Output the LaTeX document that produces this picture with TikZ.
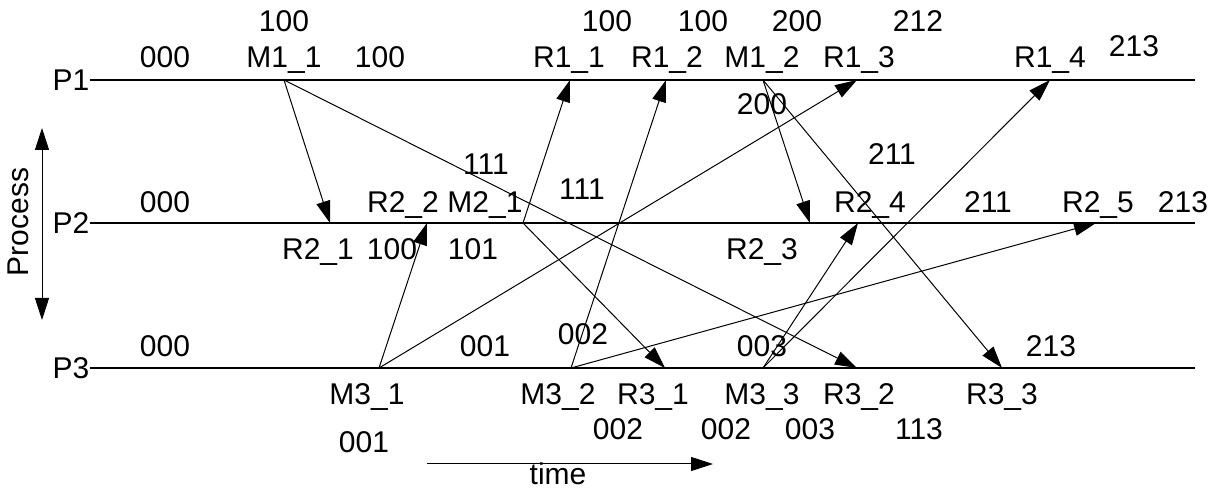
\documentclass[tikz,border=0pt]{standalone}
\usepackage{fontspec}
\setmainfont{Liberation Sans}
\usetikzlibrary{arrows.meta}
\begin{document}
\begin{tikzpicture}[x=0.5pt,y=-0.5pt]
\tikzstyle{every node}+=[inner sep=0pt,font=\fontsize{15}{18}\selectfont]
\tikzstyle{lbl}=[anchor=base]
\tikzstyle{proc}=[black,line width=1pt]
\tikzstyle{msg}=[black,line width=0.5pt,-{Triangle[length=11pt,width=7pt]}]
\useasboundingbox (0,0) rectangle (1209,490);
\node (P1) at (71,80) {P1};
\node (P2) at (71,223) {P2};
\node (P3) at (71,368) {P3};
\coordinate (e1) at (1195,80);
\coordinate (e2) at (1195,223);
\coordinate (e3) at (1195,368);
\draw [proc] (P1.east) -- (e1);
\draw [proc] (P2.east) -- (e2);
\draw [proc] (P3.east) -- (e3);
\coordinate (m11) at (284,80);
\coordinate (r11) at (570,80);
\coordinate (r12) at (666,80);
\coordinate (m12) at (763,80);
\coordinate (r13) at (857,80);
\coordinate (r14) at (1050,80);
\coordinate (r21) at (330,223);
\coordinate (r22) at (427,223);
\coordinate (m21) at (523,223);
\coordinate (r23) at (810,223);
\coordinate (r24) at (858,223);
\coordinate (r25) at (1096,223);
\coordinate (m31) at (379,368);
\coordinate (m32) at (571,368);
\coordinate (r31) at (665,368);
\coordinate (m33) at (763,368);
\coordinate (r32) at (857,368);
\coordinate (r33) at (1002,368);
\draw [msg] (m11) -- (r21);
\draw [msg] (m11) -- (r32);
\draw [msg] (m21) -- (r11);
\draw [msg] (m21) -- (r31);
\draw [msg] (m31) -- (r22);
\draw [msg] (m31) -- (r13);
\draw [msg] (m32) -- (r12);
\draw [msg] (m32) -- (r25);
\draw [msg] (m12) -- (r23);
\draw [msg] (m12) -- (r33);
\draw [msg] (m33) -- (r24);
\draw [msg] (m33) -- (r14);
\node [lbl] (vM11a) at (284,32) {100};
\node [lbl] (vP1a) at (165,68) {000};
\node [lbl] (lM11) at (284,68) {M1\_1};
\node [lbl] (vM11b) at (380,68) {100};
\node [lbl] (vR11) at (607,32) {100};
\node [lbl] (lR11) at (569,68) {R1\_1};
\node [lbl] (vR12) at (703,32) {100};
\node [lbl] (lR12) at (667,68) {R1\_2};
\node [lbl] (vM12a) at (797,32) {200};
\node [lbl] (lM12) at (762,68) {M1\_2};
\node [lbl] (vR13) at (918,32) {212};
\node [lbl] (lR13) at (859,68) {R1\_3};
\node [lbl] (lR14) at (1050,68) {R1\_4};
\node [lbl] (vR14) at (1134,57) {213};
\node [lbl] (vM12b) at (762,115) {200};
\node [lbl] (vR24a) at (892,165) {211};
\node [lbl] (vM21a) at (486,175) {111};
\node [lbl] (vR22a) at (582,200) {111};
\node [lbl] (vP2a) at (165,213) {000};
\node [lbl] (lR22) at (403,213) {R2\_2};
\node [lbl] (lM21) at (485,213) {M2\_1};
\node [lbl] (lR24) at (870,213) {R2\_4};
\node [lbl] (vR24b) at (988,213) {211};
\node [lbl] (lR25) at (1098,213) {R2\_5};
\node [lbl] (vR25) at (1183,213) {213};
\node [lbl] (lR21) at (318,260) {R2\_1};
\node [lbl] (vR21) at (392,260) {100};
\node [lbl] (vM21b) at (473,260) {101};
\node [lbl] (lR23) at (762,260) {R2\_3};
\node [lbl] (vP3a) at (165,357) {000};
\node [lbl] (vM31a) at (485,357) {001};
\node [lbl] (vM32a) at (583,345) {002};
\node [lbl] (vM33a) at (762,357) {003};
\node [lbl] (vR33) at (1051,357) {213};
\node [lbl] (lM31) at (367,405) {M3\_1};
\node [lbl] (lM32) at (558,405) {M3\_2};
\node [lbl] (lR31) at (653,405) {R3\_1};
\node [lbl] (lM33) at (762,405) {M3\_3};
\node [lbl] (lR32) at (859,405) {R3\_2};
\node [lbl] (lR33) at (1002,405) {R3\_3};
\node [lbl] (vM31b) at (364,453) {001};
\node [lbl] (vM32b) at (618,440) {002};
\node [lbl] (vR31) at (726,440) {002};
\node [lbl] (vM33b) at (810,440) {003};
\node [lbl] (vR32) at (919,440) {113};
\coordinate (pa1) at (42,128);
\coordinate (pa2) at (42,320);
\draw [black,line width=0.5pt,{Triangle[length=11pt,width=7pt]}-{Triangle[length=11pt,width=7pt]}] (pa1) -- (pa2);
\node [rotate=90] (proc) at (18,222) {Process};
\coordinate (t1) at (427,464);
\coordinate (t2) at (713,464);
\draw [black,line width=0.5pt,-{Triangle[length=11pt,width=7pt]}] (t1) -- (t2);
\node [lbl] (time) at (558,485) {time};
\end{tikzpicture}
\end{document}
